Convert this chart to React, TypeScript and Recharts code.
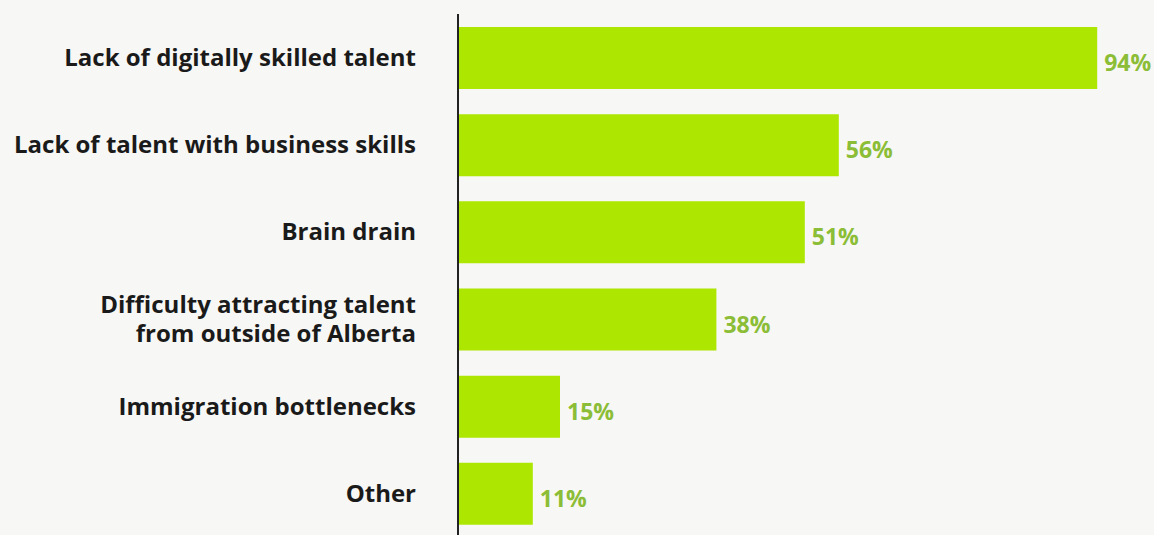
import { BarChart, Bar, XAxis, YAxis, LabelList } from "recharts";

const categories = [
  "Lack of digitally skilled talent",
  "Lack of talent with business skills",
  "Brain drain",
  "Difficulty attracting talent\nfrom outside of Alberta",
  "Immigration bottlenecks",
  "Other",
];
const shares = [94, 56, 51, 38, 15, 11];

const data = categories.map((category, i) => ({ category, share: shares[i] }));

const font = "'Open Sans', sans-serif";

function CategoryTick({ x, y, payload }: any) {
  const lines = String(payload.value).split("\n");
  const lineHeight = 29;
  const startDy = -((lines.length - 1) * lineHeight) / 2;
  return (
    <text
      x={x}
      y={y - 1}
      textAnchor="end"
      fill="#1a1a1a"
      fontFamily={font}
      fontWeight={700}
      fontSize={24}
    >
      {lines.map((line, i) => (
        <tspan key={i} x={x} dy={i === 0 ? startDy : lineHeight} dominantBaseline="central">
          {line}
        </tspan>
      ))}
    </text>
  );
}

function ValueLabel({ x, y, width, height, value }: any) {
  return (
    <text
      x={x + width + 7}
      y={y + height / 2 + 4}
      dominantBaseline="central"
      fill="#8bbd36"
      fontFamily={font}
      fontWeight={700}
      fontSize={23}
    >
      {`${value}%`}
    </text>
  );
}

export default function App() {
  return (
    <div style={{ width: 1154, height: 535, background: "#f7f7f5" }}>
      <style>{`body{margin:0;background:#f7f7f5}`}</style>
      <BarChart
        width={1154}
        height={535}
        data={data}
        layout="vertical"
        margin={{ top: 14, right: 16, bottom: -2, left: 0 }}
      >
        <XAxis type="number" domain={[0, 100]} hide />
        <YAxis
          type="category"
          dataKey="category"
          width={458}
          tickLine={false}
          tickSize={0}
          tickMargin={42}
          axisLine={{ stroke: "#222", strokeWidth: 2 }}
          tick={<CategoryTick />}
          interval={0}
        />
        <Bar dataKey="share" fill="#ade600" barSize={62} isAnimationActive={false}>
          <LabelList dataKey="share" content={<ValueLabel />} />
        </Bar>
      </BarChart>
    </div>
  );
}
